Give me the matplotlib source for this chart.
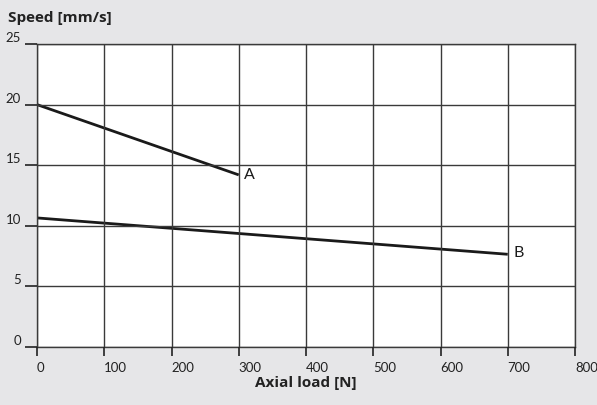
import matplotlib.pyplot as plt

# datos
carga = [0, 300]
vel_a = [20.0, 14.2]
carga_b = [0, 700]
vel_b = [10.65, 7.65]
xticks = [0, 100, 200, 300, 400, 500, 600, 700, 800]
yticks = [0, 5, 10, 15, 20, 25]

plt.rcParams['font.family'] = ['Open Sans', 'DejaVu Sans']
fuente_ticks = ['Lato', 'Open Sans']

fig = plt.figure(figsize=(5.97, 4.05), dpi=100, facecolor='#e6e6e8')
ax = fig.add_axes([37 / 597, 1 - 347 / 405, 538 / 597, 303 / 405])
ax.set_facecolor('white')

ax.plot(carga, vel_a, color='#1a1a1a', lw=2.0, solid_capstyle='butt')
ax.plot(carga_b, vel_b, color='#1a1a1a', lw=2.0, solid_capstyle='butt')
ax.text(carga[-1] + 7, vel_a[-1], 'A', fontsize=11.5, va='center', ha='left', color='#1a1a1a', family=fuente_ticks)
ax.text(carga_b[-1] + 9, vel_b[-1] + 0.1, 'B', fontsize=11.5, va='center', ha='left', color='#1a1a1a', family=fuente_ticks)

ax.set_xlim(0, 800)
ax.set_ylim(0, 25)
ax.set_xticks(xticks)
ax.set_xticklabels([str(t) for t in xticks], ha='left', fontsize=9.5, color='#222', family=fuente_ticks)
ax.set_yticks(yticks)
ax.set_yticklabels([str(t) for t in yticks], va='bottom', fontsize=9.5, color='#222', family=fuente_ticks)
# largo de ticks en puntos (12 px y 9 px)
ax.tick_params(axis='x', direction='out', length=6.5, width=1.2, color='#222', pad=4)
ax.tick_params(axis='y', direction='out', length=8.6, width=1.2, color='#222', pad=3)
ax.grid(True, color='#3a3a3a', lw=1)
ax.set_axisbelow(False)
for s in ax.spines.values():
    s.set_color('#3a3a3a')
    s.set_linewidth(1)

fig.text(8 / 597, 1 - 18 / 405, 'Speed [mm/s]', fontsize=11, fontweight='bold', va='center', ha='left', color='#222')
fig.text(306 / 597, 1 - 383 / 405, 'Axial load [N]', fontsize=11, fontweight='bold', va='center', ha='center', color='#222')

fig.savefig('out.png', dpi=100, facecolor=fig.get_facecolor())
